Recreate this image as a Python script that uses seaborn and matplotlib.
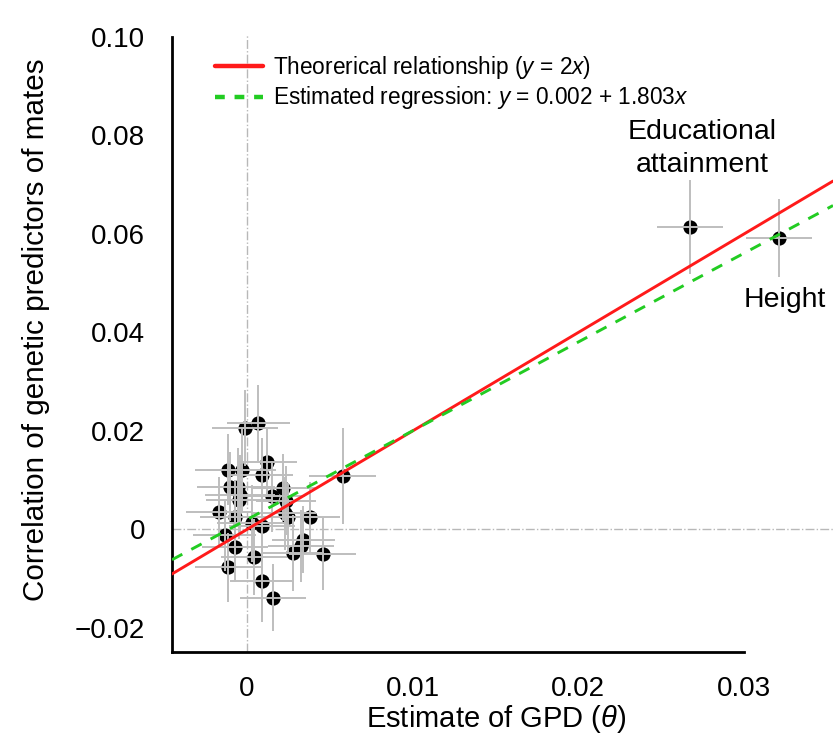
import numpy as np
import pandas as pd
import matplotlib
matplotlib.use("Agg")
import matplotlib.pyplot as plt
from matplotlib.lines import Line2D
import seaborn as sns

# ---- data ----
gpd = [-0.00012, 0.00069, 0.00119, -0.00116, -0.00032, 0.00089, -0.00103, -0.00053,
       -0.00042, -0.00046, 0.00219, 0.00149, 0.00235, -0.00169, -0.00072, 0.00229,
       0.00249, 0.00380, 0.00028, 0.00089, 0.00577, -0.00133, -0.00072, 0.00340,
       0.00324, 0.00275, 0.00456, 0.00042, -0.00113, 0.00089, 0.00155,
       0.02674, 0.03210]
corr = [0.0206, 0.0216, 0.0136, 0.0121, 0.0121, 0.0110, 0.0087, 0.0086,
        0.0069, 0.0059, 0.0085, 0.0067, 0.0058, 0.0035, 0.0026, 0.0033,
        0.0025, 0.0025, 0.0012, 0.0006, 0.0108, -0.0012, -0.0036, -0.0021,
        -0.0033, -0.0048, -0.0049, -0.0056, -0.0077, -0.0104, -0.0139,
        0.0614, 0.0591]
gpd_err = [0.0020, 0.0019, 0.0018, 0.0020, 0.0021, 0.0019, 0.0020, 0.0022,
           0.0021, 0.0020, 0.0019, 0.0020, 0.0018, 0.0020, 0.0021, 0.0019,
           0.0020, 0.0018, 0.0021, 0.0020, 0.0020, 0.0019, 0.0020, 0.0019,
           0.0020, 0.0019, 0.0020, 0.0020, 0.0020, 0.0019, 0.0020,
           0.0020, 0.0020]
corr_err = [0.0078, 0.0077, 0.0070, 0.0072, 0.0085, 0.0075, 0.0070, 0.0080,
            0.0082, 0.0078, 0.0068, 0.0072, 0.0070, 0.0071, 0.0075, 0.0074,
            0.0070, 0.0072, 0.0078, 0.0074, 0.0097, 0.0072, 0.0070, 0.0068,
            0.0073, 0.0078, 0.0074, 0.0078, 0.0070, 0.0085, 0.0068,
            0.0095, 0.0079]
labels = ["Educational\nattainment", "Height"]
label_x = [0.0275, 0.03247]
label_y = [0.0773, 0.0465]

theory_slope = 2.0
reg_intercept, reg_slope = 0.002, 1.803
legend_labels = [r"Theorerical relationship ($y$ = 2$x$)",
                 r"Estimated regression: $y$ = 0.002 + 1.803$x$"]

xticks = [0, 0.01, 0.02, 0.03]
xticklabels = ["0", "0.01", "0.02", "0.03"]
yticks = [-0.02, 0, 0.02, 0.04, 0.06, 0.08, 0.10]
yticklabels = ["\u22120.02", "0", "0.02", "0.04", "0.06", "0.08", "0.10"]

df = pd.DataFrame({"gpd": gpd, "corr": corr, "gpd_err": gpd_err, "corr_err": corr_err})

RED = "#ff1a1a"
GREEN = "#22cc22"

# ---- style ----
sns.set_style("white")
plt.rcParams["font.family"] = ["Liberation Sans", "DejaVu Sans"]
plt.rcParams["mathtext.fontset"] = "custom"
plt.rcParams["mathtext.rm"] = "Liberation Sans"
plt.rcParams["mathtext.it"] = "Liberation Sans:italic"
plt.rcParams["text.color"] = "black"
plt.rcParams["axes.labelcolor"] = "black"
plt.rcParams["xtick.color"] = "black"
plt.rcParams["ytick.color"] = "black"

fig = plt.figure(figsize=(8.33, 7.49), dpi=100)
ax = fig.add_axes([0.2065, 0.1295, 0.7935, 0.8244])

xlim = (-0.004526, 0.03537)
ylim = (-0.0249, 0.1005)
ax.set_xlim(*xlim)
ax.set_ylim(*ylim)

# reference lines
ax.axvline(0, color="#b8b8b8", lw=1.0, ls="-.", zorder=1)
ax.axhline(0, color="#b8b8b8", lw=1.0, ls="-.", zorder=1)

# points
sns.scatterplot(data=df, x="gpd", y="corr", ax=ax, color="black", s=105,
                edgecolor="black", linewidth=0, zorder=3, legend=False)
# error bars (drawn on top, giving the crossed look)
ax.errorbar(df["gpd"], df["corr"], xerr=df["gpd_err"], yerr=df["corr_err"],
            fmt="none", ecolor="#bebebe", elinewidth=1.4, capsize=0, zorder=4)

# lines
ax.axline((0, 0), slope=theory_slope, color=RED, lw=2.1, zorder=5)
ax.axline((0, reg_intercept), slope=reg_slope, color=GREEN, lw=2.1,
          ls=(0, (4, 3.5)), zorder=6)

for t, lx, ly in zip(labels, label_x, label_y):
    ax.text(lx, ly, t, ha="center", va="center", fontsize=20.5, linespacing=1.35,
            color="black")

handles = [Line2D([], [], color=RED, lw=3.2),
           Line2D([], [], color=GREEN, lw=3.2, ls=(0, (2.2, 2.2)))]
ax.legend(handles, legend_labels, loc="upper left", bbox_to_anchor=(0.052, 0.983),
          frameon=False, fontsize=16.3, handlelength=2.1, handletextpad=0.45,
          labelspacing=0.15, borderaxespad=0)

# axes styling
for s in ["top", "right"]:
    ax.spines[s].set_visible(False)
for s in ["left", "bottom"]:
    ax.spines[s].set_linewidth(2.0)
    ax.spines[s].set_color("black")
ax.spines["left"].set_bounds(ylim[0], 0.10)
ax.spines["bottom"].set_bounds(xlim[0], 0.03)

ax.set_xticks(xticks)
ax.set_xticklabels(xticklabels)
ax.set_yticks(yticks)
ax.set_yticklabels(yticklabels)
ax.tick_params(axis="both", direction="out", length=8.5, width=2.0,
               labelsize=20, color="black", labelcolor="black")
ax.tick_params(axis="y", pad=11)
ax.tick_params(axis="x", pad=9)

ax.set_xlabel(r"Estimate of GPD ($\theta$)", fontsize=21)
ax.set_ylabel("Correlation of genetic predictors of mates", fontsize=21.3)
ax.yaxis.set_label_coords(-0.184, 0.522)
ax.xaxis.set_label_coords(0.49, -0.083)

fig.savefig("out.png", dpi=100)
